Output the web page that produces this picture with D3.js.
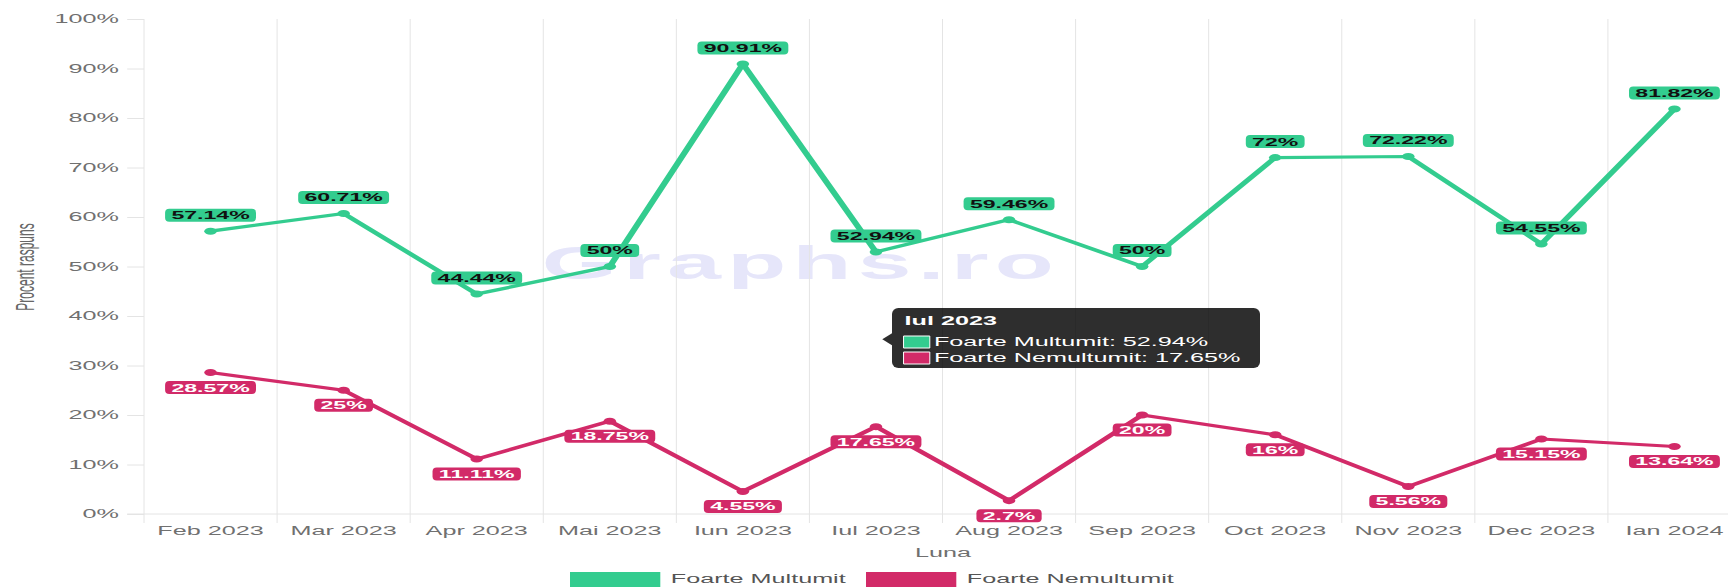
<!DOCTYPE html>
<html>
<head>
<meta charset="utf-8">
<script src="https://cdn.jsdelivr.net/npm/d3@7"></script>
<style>
  html, body { margin: 0; padding: 0; background: #fff; overflow: hidden; }
  svg { display: block; font-family: "Liberation Sans", Arial, sans-serif; }
  .grid { stroke: #e4e4e4; stroke-width: 1; vector-effect: non-scaling-stroke; }
  .yAxis text, .xAxis text { fill: #707070; font-size: 12px; }
  .yAxis line { stroke: #e4e4e4; vector-effect: non-scaling-stroke; }
</style>
</head>
<body>
<div class="chart"></div>
<script>
// chart values
var months = ["Feb 2023", "Mar 2023", "Apr 2023", "Mai 2023", "Iun 2023", "Iul 2023",
              "Aug 2023", "Sep 2023", "Oct 2023", "Nov 2023", "Dec 2023", "Ian 2024"];
var multumit = [57.14, 60.71, 44.44, 50, 90.91, 52.94, 59.46, 50, 72, 72.22, 54.55, 81.82];
var nemultumit = [28.57, 25, 11.11, 18.75, 4.55, 17.65, 2.7, 20, 16, 5.56, 15.15, 13.64];
var yTicks = [0, 10, 20, 30, 40, 50, 60, 70, 80, 90, 100];
var seriesNames = ["Foarte Multumit", "Foarte Nemultumit"];
var tooltipIndex = 5;

var green = "#33cc8f";
var pink = "#d22a68";

// the original canvas is stretched sideways, so draw narrow and stretch
var sx = 2.1;
var w = 1728 / sx;
var h = 587;

var xScale = d3.scaleBand()
               .domain(months)
               .range([144 / sx, 1741 / sx]);

var yScale = d3.scaleLinear()
               .domain([0, 100])
               .range([514, 19]);

var cx = function(i) { return xScale(months[i]) + xScale.bandwidth() / 2; };

var svg = d3.select(".chart").append("svg")
            .attr("width", 1728)
            .attr("height", h)
            .attr("viewBox", "0 0 " + w + " " + h)
            .attr("preserveAspectRatio", "none");

// watermark
svg.append("text")
   .attr("x", 801 / sx)
   .attr("y", 279)
   .attr("text-anchor", "middle")
   .style("font-size", "46px")
   .style("font-weight", "bold")
   .style("letter-spacing", "3px")
   .style("fill", "#e6e6fa")
   .text("Graphs.ro");

// vertical gridlines on category edges
var edges = months.map(function(m) { return xScale(m); }).concat([xScale.range()[1]]);
svg.selectAll("xGridlines")
   .data(edges)
   .enter()
   .append("line")
   .attr("class", "grid")
   .attr("x1", function(d) { return d; })
   .attr("x2", function(d) { return d; })
   .attr("y1", yScale(100))
   .attr("y2", yScale(0) + 9);

svg.append("line")
   .attr("class", "grid")
   .attr("x1", xScale.range()[0] - 8)
   .attr("x2", w)
   .attr("y1", yScale(0))
   .attr("y2", yScale(0));

// axes
var yAxis = d3.axisLeft(yScale)
              .tickValues(yTicks)
              .tickSize(8)
              .tickPadding(4)
              .tickFormat(function(d) { return d + "%"; });

svg.append("g")
   .attr("class", "yAxis")
   .attr("transform", "translate(" + xScale.range()[0] + ",0)")
   .call(yAxis)
   .call(function(g) { g.select(".domain").remove(); });

var xAxis = d3.axisBottom(xScale)
              .tickSize(0)
              .tickPadding(12);

svg.append("g")
   .attr("class", "xAxis")
   .attr("transform", "translate(0," + yScale(0) + ")")
   .call(xAxis)
   .call(function(g) { g.select(".domain").remove(); });

svg.append("text")
   .attr("x", 943 / sx)
   .attr("y", 557)
   .attr("text-anchor", "middle")
   .style("font-size", "12px")
   .style("fill", "#707070")
   .text("Luna");

svg.append("text")
   .attr("transform", "translate(" + (34 / sx) + ",267) rotate(-90)")
   .attr("text-anchor", "middle")
   .style("font-size", "12px")
   .style("fill", "#666")
   .text("Procent raspuns");

// lines and points
var series = [
  {name: seriesNames[0], values: multumit, color: green, textColor: "#111", dy: -16},
  {name: seriesNames[1], values: nemultumit, color: pink, textColor: "#fff", dy: 15}
];

var line = d3.line()
             .x(function(d, i) { return cx(i); })
             .y(function(d) { return yScale(d); });

series.forEach(function(s) {
  svg.append("path")
     .datum(s.values)
     .attr("d", line)
     .style("fill", "none")
     .style("stroke", s.color)
     .style("stroke-width", 3.2)
     .style("stroke-linejoin", "round");

  svg.selectAll(null)
     .data(s.values)
     .enter()
     .append("ellipse")
     .attr("cx", function(d, i) { return cx(i); })
     .attr("cy", function(d) { return yScale(d); })
     .attr("rx", 3)
     .attr("ry", 3.5)
     .style("fill", s.color);
});

// value labels
series.forEach(function(s) {
  var labels = svg.selectAll(null)
                  .data(s.values)
                  .enter()
                  .append("g")
                  .attr("transform", function(d, i) {
                    return "translate(" + cx(i) + "," + (yScale(d) + s.dy) + ")";
                  });

  labels.append("rect")
        .attr("rx", 2)
        .attr("ry", 4)
        .style("fill", s.color);

  labels.append("text")
        .attr("text-anchor", "middle")
        .attr("dy", "0.36em")
        .style("font-size", "11px")
        .style("font-weight", "bold")
        .style("fill", s.textColor)
        .text(function(d) { return d + "%"; })
        .each(function() {
          var len = this.getComputedTextLength();
          d3.select(this.parentNode).select("rect")
            .attr("x", -len / 2 - 3)
            .attr("y", -6.5)
            .attr("width", len + 6)
            .attr("height", 13);
        });
});

// legend
var legendX = [570 / sx, 866 / sx];
series.forEach(function(s, i) {
  svg.append("rect")
     .attr("x", legendX[i])
     .attr("y", 572)
     .attr("width", 43)
     .attr("height", 15)
     .style("fill", s.color);

  svg.append("text")
     .attr("x", legendX[i] + 48)
     .attr("y", 583)
     .style("font-size", "12px")
     .style("fill", "#555")
     .text(s.name);
});

// tooltip for one month
var tipX = 892 / sx;
var tipY = 308;
var tipPointY = (yScale(multumit[tooltipIndex]) + yScale(nemultumit[tooltipIndex])) / 2;
var tip = svg.append("g");

tip.append("rect")
   .attr("x", tipX)
   .attr("y", tipY)
   .attr("width", 368 / sx)
   .attr("height", 60)
   .attr("rx", 3)
   .attr("ry", 6)
   .style("fill", "rgba(0,0,0,0.82)");

tip.append("path")
   .attr("d", "M" + tipX + "," + (tipPointY - 6) + "L" + (cx(tooltipIndex) + 3) + "," + tipPointY +
              "L" + tipX + "," + (tipPointY + 6) + "Z")
   .style("fill", "rgba(0,0,0,0.82)");

tip.append("text")
   .attr("x", tipX + 6)
   .attr("y", tipY + 17)
   .style("font-size", "12px")
   .style("font-weight", "bold")
   .style("fill", "#fff")
   .text(months[tooltipIndex]);

series.forEach(function(s, i) {
  var ly = tipY + 28 + i * 16;
  tip.append("rect")
     .attr("x", tipX + 5.5)
     .attr("y", ly)
     .attr("width", 12.5)
     .attr("height", 12)
     .style("fill", s.color)
     .style("stroke", "#fff")
     .style("stroke-width", 1)
     .style("vector-effect", "non-scaling-stroke");

  tip.append("text")
     .attr("x", tipX + 20)
     .attr("y", ly + 10.5)
     .style("font-size", "12px")
     .style("fill", "#fff")
     .text(s.name + ": " + s.values[tooltipIndex] + "%");
});
</script>
</body>
</html>
